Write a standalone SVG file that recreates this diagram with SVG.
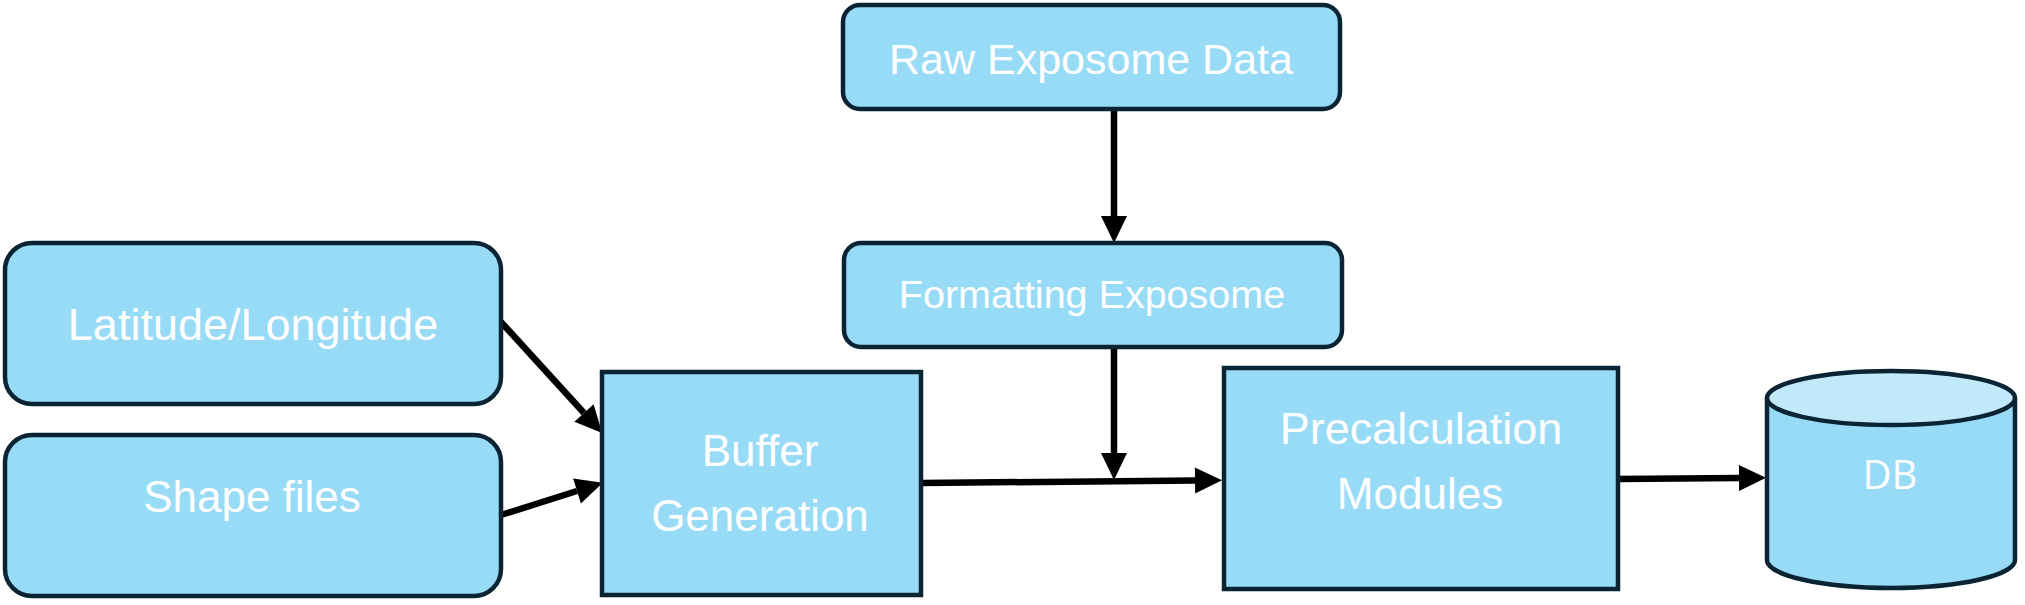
<svg xmlns="http://www.w3.org/2000/svg" width="2025" height="605" viewBox="0 0 2025 605">
<defs>
<style>
.box{fill:#97dbf7;stroke:#0a2434;stroke-width:4.5}
.top{fill:#c1e9fa;stroke:#0a2434;stroke-width:4.5}
.lbl{fill:#ffffff;font-family:"Liberation Sans",Arial,sans-serif;text-anchor:middle}
.db{fill:#ffffff;font-family:"Open Sans","Noto Sans",sans-serif;text-anchor:middle}
.conn{fill:none;stroke:#000000;stroke-width:6.5;marker-end:url(#ah)}
</style>
<marker id="ah" markerUnits="userSpaceOnUse" markerWidth="27" markerHeight="27" refX="0" refY="13" orient="auto" viewBox="0 0 27 26" overflow="visible">
<path d="M0,0 L27,13 L0,26 Z" fill="#000000"/>
</marker>
</defs>
<rect width="2025" height="605" fill="#ffffff"/>
<g id="connectors">
<line class="conn" x1="1114" y1="109" x2="1114" y2="216"/>
<line class="conn" x1="1114" y1="347" x2="1114" y2="453"/>
<line class="conn" x1="921" y1="483" x2="1195" y2="480.5"/>
<line class="conn" x1="1618" y1="479" x2="1739" y2="478"/>
<line class="conn" x1="501" y1="322" x2="584" y2="413"/>
<line class="conn" x1="501" y1="515" x2="577" y2="491"/>
</g>
<g id="raw">
<rect class="box" x="843" y="5" width="497" height="104" rx="17"/>
<text class="lbl" x="1091" y="74" font-size="43">Raw Exposome Data</text>
</g>
<g id="formatting">
<rect class="box" x="844" y="243" width="498" height="104" rx="17"/>
<text class="lbl" x="1092" y="308" font-size="39.5">Formatting Exposome</text>
</g>
<g id="latlong">
<rect class="box" x="5" y="243" width="496" height="161" rx="27"/>
<text class="lbl" x="253" y="340" font-size="45">Latitude/Longitude</text>
</g>
<g id="shape">
<rect class="box" x="5" y="435" width="496" height="161" rx="27"/>
<text class="lbl" x="252" y="512" font-size="44">Shape files</text>
</g>
<g id="buffer">
<rect class="box" x="602" y="372" width="319" height="223"/>
<text class="lbl" x="760" y="466" font-size="44">Buffer</text>
<text class="lbl" x="760" y="531" font-size="44">Generation</text>
</g>
<g id="precalc">
<rect class="box" x="1224" y="368" width="394" height="221"/>
<text class="lbl" x="1421" y="444" font-size="45">Precalculation</text>
<text class="lbl" x="1420" y="509" font-size="44">Modules</text>
</g>
<g id="db">
<path class="box" d="M1767,398 L1767,560 A124,28 0 0 0 2015,560 L2015,398"/>
<ellipse class="top" cx="1891" cy="398" rx="124" ry="27"/>
<text class="db" x="1890" y="489" font-size="40">DB</text>
</g>
</svg>
